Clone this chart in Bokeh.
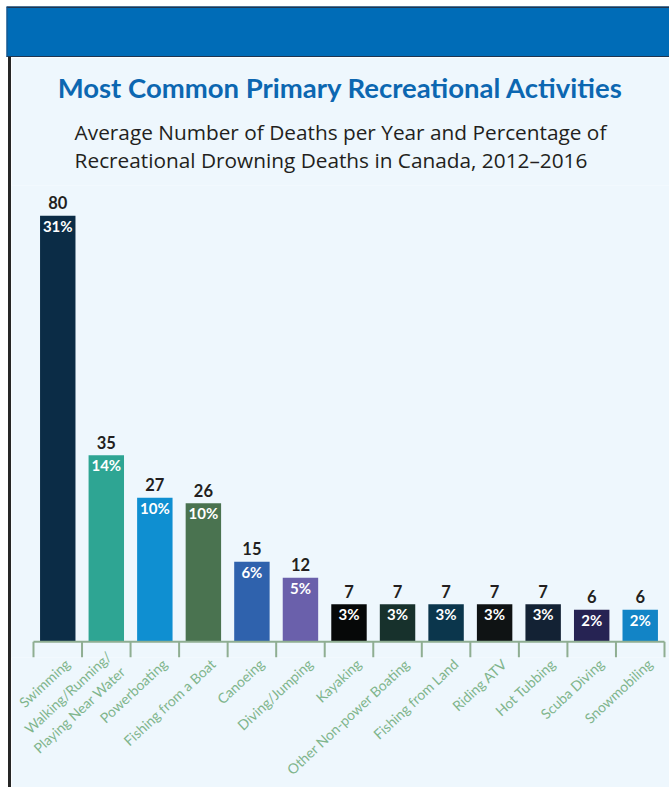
from bokeh.plotting import figure
from bokeh.models import Range1d, FixedTicker, ColumnDataSource, Title, Spacer
from bokeh.layouts import column, row
from bokeh.embed import file_html
from bokeh.resources import INLINE
from bokeh.core.properties import value

activities = [
    "Swimming",
    "Walking/Running/\nPlaying Near Water",
    "Powerboating",
    "Fishing from a Boat",
    "Canoeing",
    "Diving/Jumping",
    "Kayaking",
    "Other Non-power Boating",
    "Fishing from Land",
    "Riding ATV",
    "Hot Tubbing",
    "Scuba Diving",
    "Snowmobiling",
]
deaths = [80, 35, 27, 26, 15, 12, 7, 7, 7, 7, 7, 6, 6]
percents = ["31%", "14%", "10%", "10%", "6%", "5%", "3%", "3%", "3%", "3%", "3%", "2%", "2%"]
colors = ["#0b2c46", "#2ea593", "#0f8fd1", "#4a7350", "#2f62ad", "#6a60ab",
          "#060808", "#17312c", "#0b364c", "#0f1314", "#132234", "#262353", "#1284c6"]
title_text = "Most Common Primary Recreational Activities"
subtitle_lines = ["Average Number of Deaths per Year and Percentage of",
                  "Recreational Drowning Deaths in Canada, 2012\u20132016"]

TITLE_FONT = "Lato"
TEXT_FONT = "Open Sans"
BG = "#eef7fd"
BAND = "#006cb7"
DARK = "#1f3550"
AXIS_GREEN = "#8fae92"
LABEL_GREEN = "#7fb58c"

# header band
header = figure(width=669, height=57, x_range=(0, 1), y_range=(0, 1),
                toolbar_location=None, output_backend="svg",
                x_axis_location=None, y_axis_location=None,
                min_border_left=6, min_border_top=6, min_border_right=0, min_border_bottom=0,
                background_fill_color=BAND, border_fill_color="#ffffff",
                outline_line_color=None)
header.grid.visible = False
header.segment(x0=[0, 0], y0=[1, 0], x1=[1, 1], y1=[1, 0], line_color=DARK, line_width=3)
header.segment(x0=[0], y0=[0], x1=[0], y1=[1], line_color="#1d4f80", line_width=2)

# left page margin + dark rule
margin = Spacer(width=8, height=730)
strip = Spacer(width=3, height=730, styles={"background-color": "#262626"})

n = len(activities)
xs = list(range(n))
src = ColumnDataSource(dict(x=xs, deaths=deaths, dlabel=[str(d) for d in deaths],
                            pct=percents, color=colors))

p = figure(width=658, height=730,
           x_range=Range1d(-0.953, n - 0.5 + 0.103),
           y_range=Range1d(-2.98, 85.66),
           toolbar_location=None, output_backend="svg",
           y_axis_location=None,
           min_border_left=0, min_border_right=0,
           min_border_top=128, min_border_bottom=126,
           background_fill_color=BG, border_fill_color=BG,
           outline_line_color=None)
p.grid.visible = False

p.vbar(x="x", top="deaths", bottom=0, width=0.73, fill_color="color",
       line_color=None, source=src)

# axis line and boundary ticks
bounds = [i - 0.5 for i in range(n + 1)]
p.segment(x0=[bounds[0]], y0=[0], x1=[bounds[-1]], y1=[0],
          line_color=AXIS_GREEN, line_width=2)
p.segment(x0=bounds, y0=[0] * len(bounds), x1=bounds, y1=[p.y_range.start] * len(bounds),
          line_color=AXIS_GREEN, line_width=2)

p.text(x="x", y="deaths", text="dlabel", source=src,
       text_align="center", text_baseline="alphabetic", y_offset=-13,
       text_font=value(TITLE_FONT), text_font_style="bold",
       text_font_size="16.5px", text_color="#231f20")
p.text(x="x", y="deaths", text="pct", source=src,
       text_align="center", text_baseline="alphabetic", y_offset=10,
       text_font=value(TITLE_FONT), text_font_style="bold",
       text_font_size="15px", text_color="#ffffff")

ax = p.xaxis[0]
label_shift = 0.2
ax.ticker = FixedTicker(ticks=[x + label_shift for x in xs])
ax.major_label_overrides = {x + label_shift: name for x, name in zip(xs, activities)}
ax.major_tick_line_color = None
ax.minor_tick_line_color = None
ax.major_tick_out = 0
ax.major_tick_in = 0
ax.axis_line_color = None
ax.major_label_orientation = 0.75
ax.major_label_standoff = 4
ax.major_label_text_font = TITLE_FONT
ax.major_label_text_font_size = "14px"
ax.major_label_text_color = LABEL_GREEN

p.add_layout(Title(text="\n".join(subtitle_lines), align="center", text_font=TEXT_FONT,
                   text_font_size="20.8px", text_font_style="normal",
                   text_line_height=1.03,
                   text_color="#231f20", standoff=22), "above")
p.add_layout(Title(text=title_text, align="center", text_font=TITLE_FONT,
                   text_font_size="27.5px", text_font_style="bold",
                   text_color="#0c67b1", standoff=2), "above")

layout = column(header, row(margin, strip, p, spacing=0), spacing=0)

open("out.html", "w").write(file_html(layout, INLINE))
